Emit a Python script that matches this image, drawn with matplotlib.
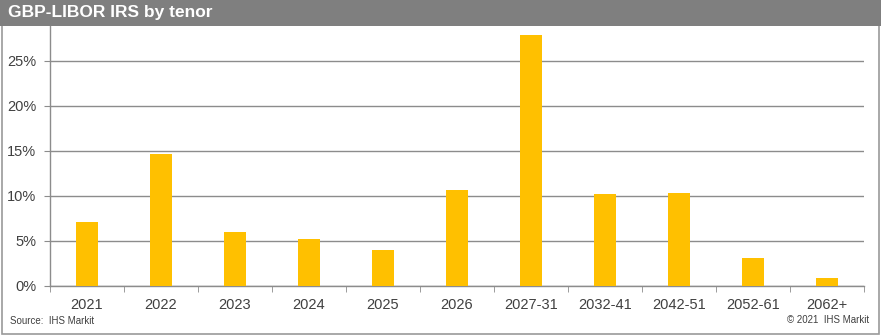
import numpy as np
import matplotlib
matplotlib.use("Agg")
import matplotlib.pyplot as plt
from matplotlib.patches import Rectangle
from matplotlib.ticker import FixedLocator, FuncFormatter

# data (share of notional, %)
tenors = ["2021", "2022", "2023", "2024", "2025", "2026",
          "2027-31", "2032-41", "2042-51", "2052-61", "2062+"]
shares = [7.1, 14.6, 6.0, 5.2, 4.0, 10.6, 27.9, 10.2, 10.3, 3.1, 0.9]
y_ticks = [0, 5, 10, 15, 20, 25]

title = "GBP-LIBOR IRS by tenor"
source = "Source:  IHS Markit"
copyright_note = "\u00a9 2021  IHS Markit"

bar_col = "#FFC000"
grid_col = "#8c8c8c"
text_col = "#404040"

plt.rcParams['font.family'] = ['Liberation Sans', 'DejaVu Sans']

W, H = 881, 335
fig = plt.figure(figsize=(W / 100, H / 100), dpi=100)

# axes box in pixel terms
left, right, top, bottom = 50, 864, 26, 285.7
ax = fig.add_axes([left / W, 1 - bottom / H, (right - left) / W, (bottom - top) / H])

x = np.arange(len(tenors))
ax.bar(x, shares, width=0.31, color=bar_col, zorder=3)

ax.set_xlim(-0.5, len(tenors) - 0.5)
ax.set_ylim(0, (bottom - top) / 9.0)

ax.set_yticks(y_ticks)
ax.yaxis.set_major_formatter(FuncFormatter(lambda v, p: f"{v:.0f}%"))
ax.grid(axis="y", color=grid_col, linewidth=1.0, zorder=0)

ax.set_xticks(x)
ax.set_xticklabels(tenors)
ax.xaxis.set_minor_locator(FixedLocator(np.arange(-0.5, len(tenors), 1.0)))
ax.tick_params(axis="x", which="major", length=0, pad=9, labelsize=10.5, labelcolor=text_col)
ax.tick_params(axis="x", which="minor", length=4, color=grid_col, direction="out")
ax.tick_params(axis="y", length=4, color=grid_col, pad=6, labelsize=10.5, labelcolor=text_col)

for s in ["top", "right"]:
    ax.spines[s].set_visible(False)
for s in ["left", "bottom"]:
    ax.spines[s].set_color(grid_col)
    ax.spines[s].set_linewidth(1.0)

# title bar
fig.patches.append(Rectangle((0, 1 - 25.5 / H), 1, 25.5 / H, transform=fig.transFigure,
                             facecolor="#7f7f7f", edgecolor="none", zorder=5))
fig.text(8 / W, 1 - 12.5 / H, title, color="white", fontsize=12.5, fontweight="bold",
         va="center", ha="left", zorder=6)

# outer frame
fig.patches.append(Rectangle((1.5 / W, 1.5 / H), (W - 4) / W, (H - 3) / H,
                             transform=fig.transFigure, facecolor="none",
                             edgecolor="#9a9a9a", linewidth=1.2, zorder=4))

fig.text(10 / W, 1 - 321 / H, source, color=text_col, fontsize=7, va="center", ha="left")
fig.text(869 / W, 1 - 320 / H, copyright_note, color=text_col, fontsize=7, va="center", ha="right")

fig.savefig("out.png", dpi=100)
